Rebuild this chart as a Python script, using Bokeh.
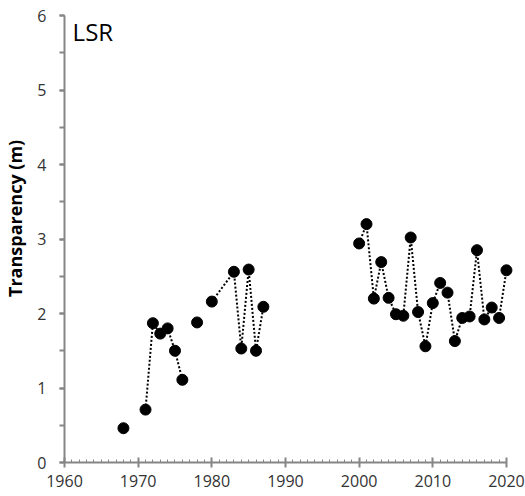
import math
from bokeh.plotting import figure
from bokeh.models import Range1d, FixedTicker, Label
from bokeh.embed import file_html
from bokeh.resources import INLINE

# Data (NaN entries break the dotted line where the original has gaps)
years = [1968, 1969, 1971, 1972, 1973, 1974, 1975, 1976, 1977, 1978, 1979,
         1980, 1983, 1984, 1985, 1986, 1987, 1988,
         2000, 2001, 2002, 2003, 2004, 2005, 2006, 2007, 2008, 2009, 2010,
         2011, 2012, 2013, 2014, 2015, 2016, 2017, 2018, 2019, 2020]
nan = float("nan")
transparency = [0.46, nan, 0.71, 1.87, 1.73, 1.80, 1.50, 1.11, nan, 1.88, nan,
                2.16, 2.56, 1.53, 2.59, 1.50, 2.09, nan,
                2.94, 3.20, 2.20, 2.69, 2.21, 1.99, 1.97, 3.02, 2.02, 1.56, 2.14,
                2.41, 2.28, 1.63, 1.94, 1.96, 2.85, 1.92, 2.08, 1.94, 2.58]

x_ticks = [1960, 1970, 1980, 1990, 2000, 2010, 2020]
y_ticks = [0, 1, 2, 3, 4, 5, 6]

pts_x = [x for x, v in zip(years, transparency) if not math.isnan(v)]
pts_y = [v for v in transparency if not math.isnan(v)]

p = figure(width=525, height=496, output_backend="svg", toolbar_location=None,
           x_range=Range1d(1960, 2021.5), y_range=Range1d(0, 6),
           min_border_left=64, min_border_right=8, min_border_top=15,
           min_border_bottom=34)
p.outline_line_color = None
p.xgrid.visible = False
p.ygrid.visible = False
p.background_fill_color = "white"
p.border_fill_color = "white"

p.line(years, transparency, line_color="black", line_width=2, line_dash="2 2")
p.scatter(pts_x, pts_y, size=11, fill_color="black", line_color="black")

axis_col = "#868686"
text_col = "#333333"
font = "Open Sans"

xa = p.xaxis[0]
xa.bounds = (1960, 2020)
xa.ticker = FixedTicker(ticks=x_ticks, minor_ticks=list(range(1960, 2021)))
xa.axis_line_color = axis_col
xa.axis_line_width = 2
xa.major_tick_line_color = axis_col
xa.major_tick_line_width = 2
xa.minor_tick_line_color = axis_col
xa.major_tick_in = 5
xa.major_tick_out = 5
xa.minor_tick_in = 3
xa.minor_tick_out = 0
xa.major_label_text_font = font
xa.major_label_text_font_size = "16px"
xa.major_label_text_color = text_col
xa.major_label_standoff = 7

ya = p.yaxis[0]
ya.ticker = FixedTicker(ticks=y_ticks, minor_ticks=[i * 0.5 for i in range(13)])
ya.axis_line_color = axis_col
ya.axis_line_width = 2
ya.major_tick_line_color = axis_col
ya.major_tick_line_width = 2
ya.minor_tick_line_color = axis_col
ya.minor_tick_line_width = 2
ya.major_tick_in = 0
ya.major_tick_out = 5
ya.minor_tick_in = 0
ya.minor_tick_out = 5
ya.major_label_text_font = font
ya.major_label_text_font_size = "16px"
ya.major_label_text_color = text_col
ya.major_label_standoff = 13
ya.axis_label = "\u2007\u2007\u2007\u2007Transparency (m)"
ya.axis_label_text_font = font
ya.axis_label_text_font_style = "bold"
ya.axis_label_text_font_size = "18px"
ya.axis_label_text_color = "black"
ya.axis_label_standoff = 7

p.add_layout(Label(x=1961.1, y=5.78, text="LSR", text_font=font,
                   text_font_size="24px", text_color="black",
                   text_baseline="middle", text_align="left"))

open("out.html", "w").write(file_html(p, INLINE))
